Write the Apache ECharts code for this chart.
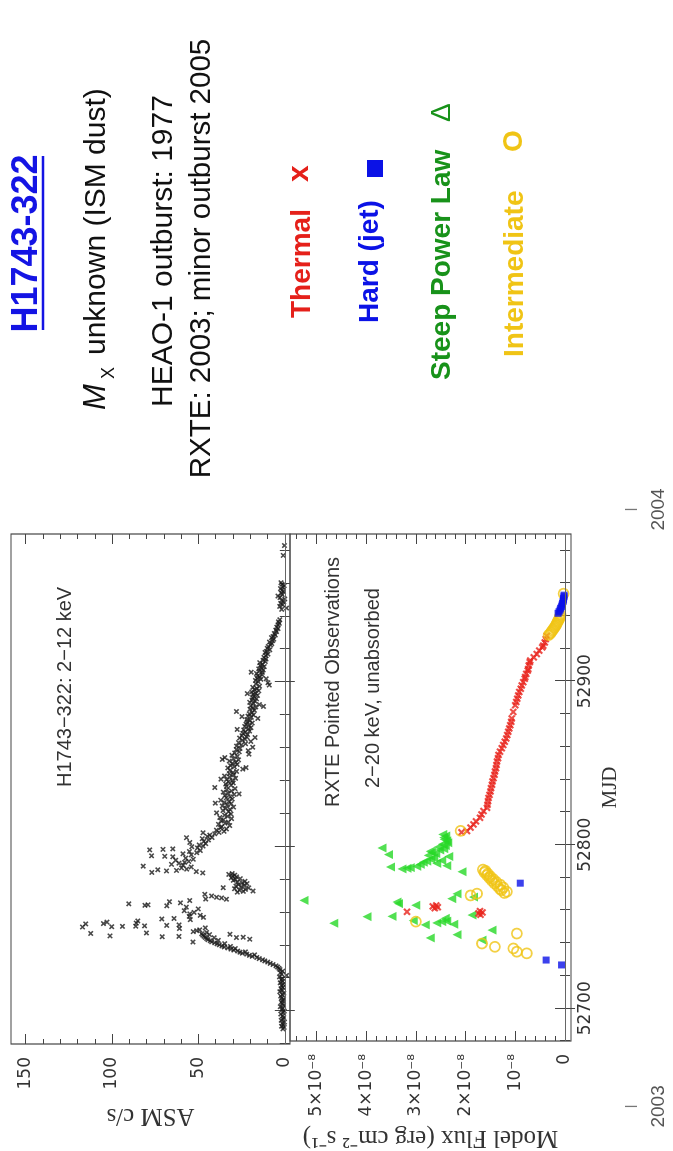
<!DOCTYPE html>
<html>
<head>
<meta charset="utf-8">
<script src="https://cdn.jsdelivr.net/npm/echarts@6/dist/echarts.min.js"></script>
<style>
  html, body { margin: 0; padding: 0; width: 673px; height: 1151px; overflow: hidden; background: #fff; }
  /* the slide is laid out landscape and turned a quarter turn counter-clockwise */
  #slide { position: absolute; left: 0; top: 0; width: 1151px; height: 673px;
           transform-origin: 0 0; transform: translate(0, 1151px) rotate(-90deg); }
</style>
</head>
<body>
<div id="slide"></div>
<script>
// ---------- axis ranges and ticks ----------
const mjdRange = [52680, 52990];
const asmRange = [-3, 158.5];
const fluxRange = [-0.12, 5.53];          // flux in units of 1e-8 erg cm^-2 s^-1

const mjdMajorTicks = [52700, 52800, 52900];
const mjdMinorTicks = [52680, 52700, 52720, 52740, 52760, 52780, 52800, 52820, 52840, 52860, 52880, 52900, 52920, 52940, 52960, 52980];
const asmMajorTicks = [0, 50, 100, 150];
const asmMinorTicks = [0, 10, 20, 30, 40, 50, 60, 70, 80, 90, 100, 110, 120, 130, 140, 150];
const fluxMajorTicks = [0, 1, 2, 3, 4, 5];
const fluxMinorTicks = [0, 0.2, 0.4, 0.6, 0.8, 1, 1.2, 1.4, 1.6, 1.8, 2, 2.2, 2.4, 2.6, 2.8, 3, 3.2, 3.4, 3.6, 3.8, 4, 4.2, 4.4, 4.6, 4.8, 5, 5.2, 5.4];

const yearLabels = ['2003', '2004'];
const yearMjd = [52640, 53005];

// ---------- ASM 2-12 keV light curve: [MJD, c/s] ----------
const asmQuiet = [
  [52689.2,1.1],[52690.1,0.4],[52690.8,1.9],[52691.6,0.8],[52692.5,1.5],[52693.3,0.2],[52694.4,2.1],[52695.2,1.0],
  [52696.1,0.6],[52697.0,1.4],[52698.2,2.3],[52699.1,0.9],[52700.0,0.3],[52700.9,1.7],[52701.8,1.2],[52702.7,2.6],
  [52703.5,0.7],[52704.6,1.5],[52705.4,2.0],[52706.3,1.3],[52707.2,0.8],[52708.0,1.8],[52709.1,2.4],[52710.0,1.4],
  [52710.9,0.6],[52711.8,2.9],[52712.7,1.6],[52713.6,2.2],[52714.4,1.1],[52715.5,1.9],[52716.3,0.9],[52717.2,2.7],
  [52718.1,1.3],[52719.0,2.0],[52719.9,1.5],[52720.8,3.1],[52721.7,-1.0],[52722.5,1.8],[52723.4,2.5],[52724.3,1.2],
  [52725.2,2.8],[52726.0,3.4]
];
const asmRise = [
  [52726.8,4.2],[52727.5,5.1],[52728.3,6.8],[52729.0,8.5],[52729.8,9.9],[52730.5,11.6],[52731.2,12.9],[52731.9,14.8],
  [52732.6,16.2],[52733.3,18.9],[52733.9,20.5],[52734.2,17.5],[52734.6,22.1],[52735.2,24.6],[52735.8,26.0],[52736.0,22.8],
  [52736.5,27.3],[52737.1,29.5],[52737.7,31.2],[52738.0,28.7],[52738.4,33.0],[52739.0,35.1],[52739.3,31.5],[52739.6,36.4],
  [52740.3,37.9],[52740.9,39.2],[52741.0,34.8],[52741.5,40.6],[52742.1,42.3],[52742.8,43.1],[52743.0,38.5],[52743.4,44.5],
  [52743.7,20.3],[52744.1,45.2],[52744.6,40.9],[52744.7,28.0],[52744.9,24.1],[52744.8,46.0],[52745.5,46.8],[52746.2,47.5],
  [52746.5,43.6],[52746.7,31.8],[52747.0,48.1],[52747.8,45.3]
];
const asmPeak = [
  [52742.0,53.2],[52745.2,71.0],[52745.4,61.3],[52745.7,101.2],[52747.2,112.4],[52747.5,80.1],[52748.3,53.0],[52748.9,51.0],
  [52749.4,49.3],[52750.2,61.0],[52750.6,46.0],[52751.1,117.1],[52751.3,100.2],[52751.5,94.0],[52751.6,86.3],[52751.8,81.2],
  [52752.1,68.4],[52752.4,61.2],[52753.0,115.3],[52753.2,105.0],[52753.5,86.0],[52754.1,103.0],[52754.8,85.1],[52755.6,54.7],
  [52756.0,71.2],[52756.3,64.1],[52757.0,47.1],[52757.6,55.3],[52758.2,49.0],[52759.1,55.0],[52760.0,52.5],[52761.0,58.2],
  [52762.1,50.1],[52763.2,57.0],[52764.0,68.3],[52764.3,81.0],[52764.6,79.2],[52765.2,90.3],[52765.8,60.4],[52766.5,66.8],
  [52767.2,55.1],[52768.0,33.8],[52768.1,45.8],[52768.8,36.6],[52769.2,39.5],[52770.0,42.4],[52771.0,46.3],[52775.0,35.7]
];
const asmDip = [
  [52772.3,27.5],[52772.8,24.0],[52773.0,18.4],[52773.5,26.2],[52774.0,22.8],[52774.4,29.1],[52774.9,20.9],[52775.5,25.3],
  [52776.0,28.3],[52776.4,23.6],[52776.9,26.8],[52777.5,21.9],[52778.0,24.7],[52778.4,27.4],[52778.9,23.1],[52779.5,29.8],
  [52780.0,28.6],[52780.5,25.8],[52781.0,31.0],[52781.6,27.9],[52782.1,30.2],[52782.6,29.0],[52783.1,32.4],[52783.6,30.5]
];
const asmSecondPeak = [
  [52784.0,47.5],[52784.3,77.0],[52784.8,51.2],[52785.2,68.5],[52785.5,62.7],[52785.9,73.5],[52786.3,56.8],[52787.0,59.8],
  [52787.6,54.2],[52788.1,82.0],[52788.7,58.9],[52789.2,65.6],[52789.9,61.3],[52790.4,58.0],[52791.0,55.6],[52791.7,63.2],
  [52792.3,53.0],[52793.0,57.4],[52793.8,64.8],[52794.1,69.5],[52794.4,77.1],[52795.0,54.1],[52795.6,59.0],[52796.3,51.0],
  [52797.0,55.2],[52797.6,48.9],[52798.0,78.2],[52798.3,70.5],[52798.6,64.8],[52799.2,50.6],[52799.9,53.8],[52800.3,47.3],
  [52801.0,49.6],[52801.8,45.8],[52802.5,55.0],[52803.2,46.9],[52804.0,44.2],[52804.8,47.8],[52805.4,56.9],[52805.5,42.1],
  [52806.2,44.9],[52807.0,43.4],[52807.8,40.6],[52808.4,47.3]
];
const asmDecay = [
  [52808.6,38.1],[52809.3,35.2],[52810.0,39.6],[52810.7,33.8],[52811.4,37.2],[52812.1,36.5],[52812.8,31.9],[52813.5,38.4],
  [52814.2,34.6],[52814.9,32.7],[52815.6,36.9],[52816.3,35.5],[52817.0,30.8],[52817.7,37.6],[52818.4,33.1],[52819.1,34.9],
  [52819.8,31.2],[52820.5,39.5],[52821.2,32.6],[52821.9,35.8],[52822.6,31.8],[52823.3,34.1],[52824.0,29.7],[52824.7,36.2],
  [52825.4,33.3],[52826.1,31.0],[52826.4,40.2],[52826.8,35.0],[52827.5,32.4],[52828.2,37.1],[52828.9,30.5],[52829.6,33.9],
  [52830.3,31.6],[52831.0,34.7],[52831.7,29.3],[52832.0,26.5],[52832.4,32.8],[52833.1,35.6],[52833.8,30.9],[52834.5,33.5],
  [52835.2,28.8],[52835.9,40.5],[52836.6,33.8],[52837.3,31.1],[52838.0,34.2],[52838.7,29.9],[52839.4,32.6],[52840.1,30.4],
  [52840.8,33.7],[52841.0,37.0],[52841.5,28.5],[52842.2,31.8],[52842.9,34.9],[52843.6,29.6],[52844.3,32.2],[52845.0,30.0],
  [52845.7,27.9],[52846.4,31.8],[52847.1,24.3],[52847.8,33.0],[52848.0,22.4],[52848.5,29.2],[52849.2,31.4],[52849.9,27.6],
  [52850.6,30.3],[52851.3,28.4],[52852.0,32.1],[52852.7,26.8],[52853.0,36.2],[52853.4,29.7],[52854.1,34.7],[52854.8,27.5],
  [52855.5,30.6],[52856.2,20.8],[52856.9,29.0],[52857.6,26.4],[52858.3,21.2],[52859.0,28.1],[52859.7,25.9],[52860.4,18.6],
  [52861.1,27.9],[52861.8,25.1],[52862.5,22.7],[52863.2,26.8],[52863.9,19.7],[52864.6,24.6],[52865.3,23.0],[52866.0,26.2],
  [52866.3,17.2],[52866.7,22.1],[52867.4,24.8],[52868.1,21.6],[52868.8,24.3],[52869.5,22.9],[52870.2,20.4],[52870.9,23.8],
  [52871.2,27.6],[52871.6,21.1],[52872.3,19.6],[52873.0,23.2],[52873.7,20.7],[52874.4,22.5],[52875.1,18.9],[52875.8,21.8],
  [52876.5,20.1],[52877.2,22.0],[52877.9,15.6],[52878.6,19.4],[52879.0,24.8],[52879.3,21.3],[52880.0,18.2],[52880.7,20.6],
  [52881.4,19.0],[52882.1,28.0],[52882.8,17.6],[52883.5,20.2],[52884.2,18.5],[52884.9,16.8],[52885.2,12.4],[52885.6,19.7],
  [52886.3,14.7],[52887.0,18.1],[52887.7,20.3],[52888.4,17.2],[52889.1,19.0],[52889.8,16.4],[52890.5,18.7],[52891.2,17.9],
  [52891.9,15.8],[52892.6,18.3],[52893.0,21.7],[52893.3,16.9],[52894.0,19.2],[52894.7,15.1],[52895.4,17.5],[52896.1,16.2],
  [52896.8,18.5],[52897.5,14.6],[52898.2,9.0],[52898.9,16.7],[52899.6,9.8],[52900.3,15.4],[52901.0,17.0],[52901.7,13.9],
  [52902.0,10.8],[52902.4,16.1],[52903.1,14.4],[52903.8,15.7],[52904.5,13.2],[52905.2,16.4],[52905.9,13.0],[52906.0,19.5],
  [52906.6,14.8],[52907.3,12.5],[52908.0,15.1],[52908.7,13.6],[52909.4,11.9],[52910.1,14.2],[52910.8,12.8],[52911.8,14.5],
  [52912.5,11.3],[52913.2,12.6],[52914.0,10.9],[52915.0,12.1],[52916.0,11.0],[52917.0,9.8],[52918.0,11.4],[52918.6,10.6],
  [52919.6,8.7],[52920.5,10.1],[52921.6,9.6],[52922.5,8.2],[52923.4,7.5],[52924.3,8.9],[52925.2,7.0],[52926.1,6.4],
  [52927.0,7.7],[52927.7,6.8],[52928.6,5.5],[52929.5,6.1],[52930.7,4.8],[52931.6,5.2],[52932.5,3.9],[52933.4,4.6],
  [52934.8,4.0],[52935.7,3.2],[52936.6,3.7],[52937.9,2.9],
  [52944.2,1.8],[52945.0,-1.0],[52946.0,3.0],[52946.9,1.2],[52947.8,2.4],[52948.7,0.6],[52949.6,1.9],[52950.5,0.0],
  [52951.4,2.8],[52952.3,4.0],[52953.2,1.5],[52954.1,2.0],[52955.0,0.8],[52955.9,1.6],[52956.8,2.5],[52957.7,1.0],
  [52958.6,0.4],[52959.5,1.7],[52960.4,2.2],[52977.0,0.9],[52983.0,0.2]
];

// ---------- RXTE pointed observations, 2-20 keV flux: [MJD, flux / 1e-8] ----------
const thermalPts = [
  [52757.2,1.70],[52758.0,1.74],[52758.6,1.66],[52759.4,1.71],[52759.0,3.18],
  [52761.2,2.62],[52761.8,2.56],[52762.3,2.66],[52762.9,2.59],
  [52807.6,2.08],[52808.4,1.97],[52810.5,1.90],[52812.4,1.84],[52814.3,1.79],[52816.5,1.71],[52818.5,1.68],[52820.6,1.64],
  [52822.6,1.57],[52824.5,1.56],[52826.6,1.55],[52828.6,1.54],[52830.5,1.52],[52832.6,1.50],[52834.6,1.49],[52836.7,1.47],
  [52838.7,1.46],[52840.7,1.44],[52842.8,1.42],[52844.8,1.41],[52846.8,1.39],[52848.8,1.38],[52850.9,1.37],[52852.9,1.35],
  [52854.9,1.34],[52856.9,1.31],[52859.0,1.27],[52861.0,1.24],[52863.0,1.21],[52865.0,1.18],[52867.1,1.16],[52869.1,1.14],
  [52871.1,1.12],[52873.1,1.10],[52875.2,1.08],[52877.2,1.07],[52881.2,1.04],[52885.3,1.00],[52887.3,0.98],[52889.3,0.96],
  [52891.3,0.94],[52893.4,0.92],[52895.4,0.89],[52897.4,0.87],[52899.4,0.84],[52901.5,0.81],[52902.6,0.80],[52904.5,0.78],
  [52906.5,0.75],[52907.5,0.74],[52909.6,0.73],[52911.6,0.71],[52912.6,0.70],[52914.6,0.63],[52916.6,0.57],[52918.7,0.52],
  [52920.7,0.46],[52921.7,0.44],[52923.7,0.41],[52925.7,0.39],[52927.7,0.37]
];
const hardPts = [
  [52726.5,0.07],[52729.5,0.38],[52776.5,0.90],
  [52941.5,0.14],[52942.5,0.12],[52943.5,0.10],[52944.6,0.09],[52945.5,0.07],[52946.6,0.06],[52947.6,0.05],[52948.7,0.04],
  [52949.6,0.03],[52950.7,0.03],[52951.7,0.02],[52952.6,0.02]
];
const steepPts = [
  [52741.7,1.67],[52743.0,2.71],[52745.0,2.17],[52747.8,1.47],[52751.0,2.81],[52751.4,2.24],[52752.0,4.65],[52752.2,2.58],
  [52753.0,2.48],[52753.3,2.38],[52753.6,3.05],[52755.0,2.41],[52756.0,3.98],[52756.2,3.48],[52757.0,1.87],[52763.0,3.00],
  [52764.0,3.35],[52765.0,3.38],[52766.0,5.25],[52767.0,2.28],[52768.0,1.84],[52770.0,2.17],[52783.5,2.07],
  [52785.2,3.28],[52785.6,3.18],[52786.0,3.11],[52786.4,3.51],[52786.8,2.98],[52787.2,2.38],[52788.0,2.91],[52788.6,2.58],
  [52789.3,2.85],[52790.0,2.78],[52790.4,2.48],[52791.2,2.70],[52792.0,2.64],[52792.8,2.34],[52793.5,2.75],[52794.0,3.55],
  [52794.6,2.60],[52795.4,2.68],[52796.0,2.71],[52796.8,2.52],[52797.6,2.44],[52798.0,3.68],[52798.6,2.55],[52799.5,2.41],
  [52800.3,2.47],[52801.2,2.36],[52802.4,2.38],[52803.3,2.43],[52804.4,2.44],[52805.4,2.40],[52806.3,2.46]
];
const intermediatePts = [
  [52733.6,0.77],[52734.6,0.97],[52736.6,1.04],[52737.6,1.41],[52739.6,1.67],[52745.7,0.97],[52753.0,3.00],
  [52769.0,1.90],[52770.1,1.77],
  [52770.5,1.22],[52771.3,1.17],[52772.2,1.28],[52773.0,1.31],[52773.8,1.24],[52774.7,1.36],[52775.5,1.30],[52776.4,1.42],
  [52777.2,1.38],[52778.0,1.47],[52778.9,1.44],[52779.7,1.52],[52780.6,1.50],[52781.4,1.57],[52782.3,1.55],[52783.1,1.62],
  [52784.0,1.60],[52784.8,1.65],[52808.5,2.10],
  [52928.2,0.33],[52929.0,0.30],[52929.9,0.28],[52930.8,0.26],[52931.6,0.24],[52932.5,0.22],[52933.4,0.20],[52934.3,0.18],
  [52935.2,0.17],[52936.1,0.15],[52937.0,0.14],[52937.9,0.12],[52938.8,0.11],[52939.7,0.10],[52940.6,0.09],[52953.5,0.03]
];

const asmPts = [].concat(asmQuiet, asmRise, asmPeak, asmDip, asmSecondPeak, asmDecay);

// ---------- styling ----------
const INK = '#444';
const TICK_FONT = 'DejaVu Sans';
const SERIF = '"Liberation Serif", "Times New Roman", serif';
const SANS = '"Liberation Sans", Arial, sans-serif';
const CROSS = 'path://M0,2L2,0L5,3L8,0L10,2L7,5L10,8L8,10L5,7L2,10L0,8L3,5Z';

const chart = echarts.init(document.getElementById('slide'), null, { renderer: 'canvas' });

function tickAxisX(grid, pos, ticks, len, label) {
  return {
    type: 'value', gridIndex: grid, position: pos, min: mjdRange[0], max: mjdRange[1],
    axisLine: { show: false }, splitLine: { show: false },
    axisTick: { show: true, inside: true, length: len, customValues: ticks, lineStyle: { color: INK, width: 1 } },
    axisLabel: label ? { show: true, customValues: ticks, margin: 6, color: '#333', fontFamily: TICK_FONT, fontSize: 17,
                         formatter: v => String(v) } : { show: false },
    name: label ? 'MJD' : '', nameLocation: 'middle', nameGap: 29,
    nameTextStyle: { fontFamily: SERIF, fontSize: 21, color: '#333' }
  };
}
function tickAxisY(grid, pos, range, ticks, len, label, name, gap, fmt) {
  return {
    type: 'value', gridIndex: grid, position: pos, min: range[0], max: range[1],
    axisLine: { show: false }, splitLine: { show: false },
    axisTick: { show: true, inside: true, length: len, customValues: ticks, lineStyle: { color: INK, width: 1 } },
    axisLabel: label ? { show: true, customValues: ticks, margin: 13, color: '#333', fontFamily: TICK_FONT, fontSize: 17,
                         formatter: fmt || (v => String(v)) } : { show: false },
    name: label ? name : '', nameLocation: 'middle', nameGap: gap,
    nameTextStyle: { fontFamily: SERIF, fontSize: 25, color: '#333' }
  };
}
const fluxFmt = v => (v === 0 ? '0' : (v === 1 ? '10\u207B\u2078' : v + '\u00D710\u207B\u2078'));

const xAxes = [];
[0, 1].forEach(g => {
  ['bottom', 'top'].forEach(p => {
    xAxes.push(tickAxisX(g, p, mjdMajorTicks, 10, g === 1 && p === 'bottom'));
    xAxes.push(tickAxisX(g, p, mjdMinorTicks, 5, false));
  });
});
// x axis 0: upper panel, x axis 4: lower panel (labelled)
const yAxes = [];
['left', 'right'].forEach(p => {
  yAxes.push(tickAxisY(0, p, asmRange, asmMajorTicks, 10, p === 'left', 'ASM c/s', 59));
  yAxes.push(tickAxisY(0, p, asmRange, asmMinorTicks, 5, false));
});
['left', 'right'].forEach(p => {
  yAxes.push(tickAxisY(1, p, fluxRange, fluxMajorTicks, 10, p === 'left', 'Model Flux (erg cm\u207B\u00B2 s\u207B\u00B9)', 84, fluxFmt));
  yAxes.push(tickAxisY(1, p, fluxRange, fluxMinorTicks, 5, false));
});
// y axis 0: ASM rate, y axis 4: model flux

const zeroLine = color => ({
  silent: true, symbol: 'none', label: { show: false },
  lineStyle: { color: color, width: 1, type: 'solid' },
  data: [{ yAxis: 0 }]
});

chart.setOption({
  animation: false,
  backgroundColor: '#fff',
  grid: [
    { left: 107, top: 11, width: 510, height: 279, show: true, borderColor: INK, borderWidth: 1.2, backgroundColor: 'transparent' },
    { left: 107, top: 290, width: 510, height: 281, show: true, borderColor: INK, borderWidth: 1.2, backgroundColor: 'transparent' }
  ],
  xAxis: xAxes,
  yAxis: yAxes,
  series: [
    { name: 'ASM', type: 'scatter', xAxisIndex: 0, yAxisIndex: 0, data: asmPts,
      symbol: CROSS, symbolSize: 5.5, itemStyle: { color: '#1c1c1c' },
      markLine: zeroLine('#666'), emphasis: { disabled: true } },
    { name: 'Steep Power Law', type: 'scatter', xAxisIndex: 4, yAxisIndex: 4, data: steepPts,
      symbol: 'triangle', symbolSize: 9, itemStyle: { color: '#27d827' },
      markLine: zeroLine('#666'), emphasis: { disabled: true } },
    { name: 'Thermal', type: 'scatter', xAxisIndex: 4, yAxisIndex: 4, data: thermalPts,
      symbol: CROSS, symbolSize: 7.5, itemStyle: { color: '#e8231c' }, emphasis: { disabled: true } },
    { name: 'Intermediate', type: 'scatter', xAxisIndex: 4, yAxisIndex: 4, data: intermediatePts,
      symbol: 'circle', symbolSize: 10,
      itemStyle: { color: 'rgba(0,0,0,0)', borderColor: '#f0c415', borderWidth: 1.8 }, emphasis: { disabled: true } },
    { name: 'Hard (jet)', type: 'scatter', xAxisIndex: 4, yAxisIndex: 4, data: hardPts,
      symbol: 'rect', symbolSize: 7, itemStyle: { color: '#0b12e8' }, emphasis: { disabled: true } }
  ]
});

// ---------- slide text, annotations and year markers ----------
const graphics = [];
function txt(x, y, text, font, fill, align) {
  graphics.push({ type: 'text', x: x, y: y, silent: true,
    style: { text: text, font: font, fill: fill, align: align || 'left', verticalAlign: 'middle' } });
}
// panel annotations
txt(364, 65, 'H1743\u2212322: 2\u221212 keV', '20px ' + SANS, '#333');
txt(344, 333, 'RXTE Pointed Observations', '20px ' + SANS, '#333');
txt(363, 373, '2\u221220 keV, unabsorbed', '20px ' + SANS, '#333');

// title block
txt(907.5, 27, 'H1743-322', 'bold 36px ' + SANS, '#1414e4', 'center');
graphics.push({ type: 'line', silent: true, shape: { x1: 821, y1: 43, x2: 995, y2: 43 }, style: { stroke: '#1414e4', lineWidth: 2.5 } });
txt(741, 96.5, 'M', 'italic 31px ' + SANS, '#111');
txt(772, 109, 'X', '18px ' + SANS, '#111');
txt(796, 96.5, 'unknown (ISM dust)', '30px ' + SANS, '#111');
txt(900, 163.5, 'HEAO-1 outburst: 1977', '30px ' + SANS, '#111', 'center');
txt(892.5, 202, 'RXTE: 2003; minor outburst 2005', '29.5px ' + SANS, '#111', 'center');

// state key
txt(833, 302, 'Thermal', 'bold 28px ' + SANS, '#e5201a');
txt(969, 300, 'x', 'bold 30px ' + SANS, '#e5201a');
txt(828, 370, 'Hard (jet)', 'bold 28px ' + SANS, '#0b12e6');
graphics.push({ type: 'rect', silent: true, shape: { x: 974, y: 367, width: 17, height: 16 }, style: { fill: '#0b12e6' } });
txt(771, 442, 'Steep Power Law', 'bold 28px ' + SANS, '#18921a');
txt(1029, 442, '\u0394', '28px ' + SANS, '#18921a');
txt(794, 515, 'Intermediate', 'bold 28px ' + SANS, '#f0c415');
txt(999, 514, 'O', 'bold 28px ' + SANS, '#f0c415');

// calendar-year markers placed on the MJD scale
yearMjd.forEach((m, i) => {
  const px = chart.convertToPixel({ xAxisIndex: 4 }, m);
  graphics.push({ type: 'line', silent: true, shape: { x1: px, y1: 625, x2: px, y2: 637 }, style: { stroke: '#777', lineWidth: 1.3 } });
  txt(px, 659, yearLabels[i], '19px ' + SANS, '#555', 'center');
});

chart.setOption({ graphic: graphics });
</script>
</body>
</html>
